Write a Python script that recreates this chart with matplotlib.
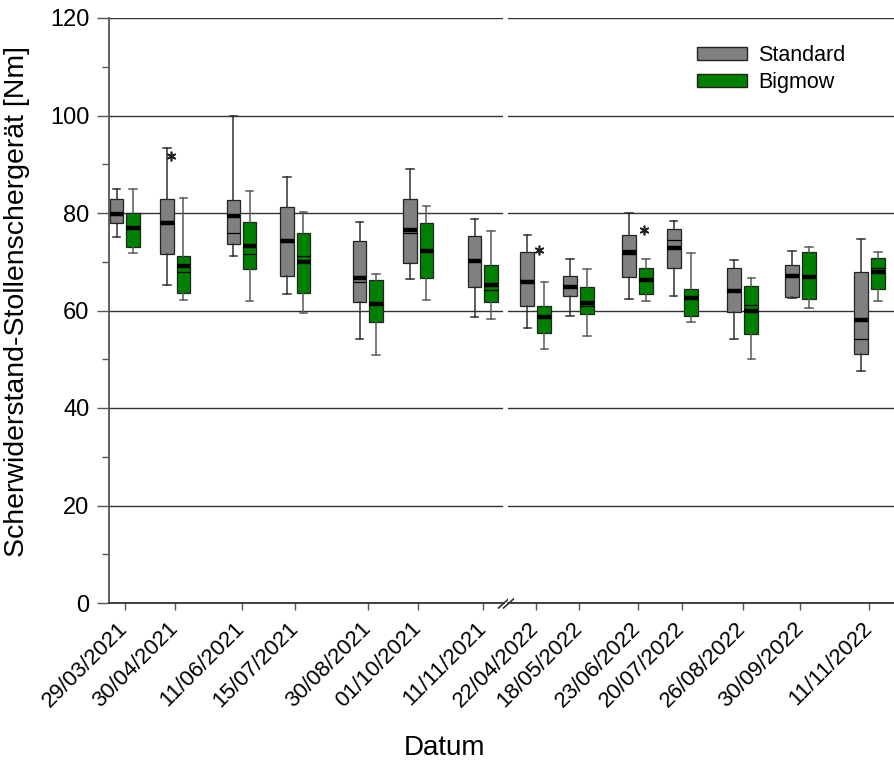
import datetime as dt
import matplotlib.pyplot as plt
import matplotlib.dates as mdates
from matplotlib.patches import Patch
from matplotlib.ticker import MultipleLocator

plt.rcParams['font.family'] = ['Liberation Sans', 'DejaVu Sans']

# sampling dates (first season / second season)
dates_2021 = ['29/03/2021', '30/04/2021', '11/06/2021', '15/07/2021',
              '30/08/2021', '01/10/2021', '11/11/2021']
dates_2022 = ['22/04/2022', '18/05/2022', '23/06/2022', '20/07/2022',
              '26/08/2022', '30/09/2022', '11/11/2022']
dates = dates_2021 + dates_2022

# Standard (grey) - box statistics [Nm]
std_whishi = [85.0, 93.4, 100.0, 87.4, 78.2, 89.0, 78.7, 75.5, 70.5, 79.9, 78.4, 70.4, 72.2, 74.7]
std_q3 = [82.8, 82.8, 82.7, 81.3, 74.3, 82.9, 75.2, 71.9, 67.1, 75.4, 76.7, 68.8, 69.3, 68.0]
std_mean = [79.8, 77.9, 79.4, 74.3, 66.7, 76.5, 70.2, 65.8, 64.9, 71.7, 72.8, 63.9, 67.1, 58.1]
std_median = [79.8, 77.9, 76.0, 74.3, 65.9, 75.8, 70.2, 65.8, 64.9, 72.4, 74.5, 63.9, 67.1, 54.1]
std_q1 = [77.9, 71.6, 73.6, 67.0, 61.7, 69.7, 64.9, 60.9, 63.0, 66.8, 68.7, 59.6, 62.8, 51.0]
std_whislo = [75.0, 65.2, 71.2, 63.3, 54.2, 66.5, 58.7, 56.4, 58.9, 62.3, 62.9, 54.2, 62.6, 47.5]

# Bigmow (green)
big_whishi = [84.9, 83.0, 84.6, 80.2, 67.4, 81.4, 76.4, 65.9, 68.5, 70.6, 71.7, 66.7, 73.1, 71.9]
big_q3 = [79.9, 71.1, 78.2, 76.0, 66.3, 78.0, 69.4, 61.0, 64.9, 68.8, 64.4, 65.0, 71.9, 70.7]
big_mean = [77.0, 69.1, 73.2, 69.9, 61.3, 72.3, 65.2, 58.6, 61.6, 66.3, 62.6, 60.0, 66.9, 68.0]
big_median = [77.0, 67.8, 71.5, 71.2, 61.3, 72.3, 64.2, 58.6, 61.0, 66.3, 62.6, 61.1, 66.9, 68.8]
big_q1 = [73.1, 63.5, 68.5, 63.5, 57.6, 66.6, 61.8, 55.3, 59.2, 63.4, 58.9, 55.2, 62.3, 64.4]
big_whislo = [71.7, 62.2, 62.0, 59.4, 50.9, 62.2, 58.2, 52.1, 54.8, 62.0, 57.6, 50.1, 60.6, 62.0]

# significance stars: date, value
star_dates = ['30/04/2021', '22/04/2022', '23/06/2022']
star_values = [91.7, 72.4, 76.6]
star_shift = [-2.5, 2.0, 4.0]  # days

def to_num(s):
    return mdates.date2num(dt.datetime.strptime(s, '%d/%m/%Y'))

def stats(i, hi, q3, mean, med, q1, lo):
    return dict(whishi=hi[i], q3=q3[i], mean=mean[i], med=med[i],
                q1=q1[i], whislo=lo[i], fliers=[])

fig = plt.figure(figsize=(8.94, 7.74), dpi=100)
W, H = 894, 774
bottom = 1 - 603 / H
height = 585 / H
ax1 = fig.add_axes([109 / W, bottom, (503.5 - 109) / W, height])
ax2 = fig.add_axes([508 / W, bottom, (894 - 508) / W, height], sharey=ax1)

offset = 5.2
box_w = 8.5
cap_w = 4.7

for ax, labels in [(ax1, dates_2021), (ax2, dates_2022)]:
    idx = [dates.index(d) for d in labels]
    pos = [to_num(d) for d in labels]
    std_stats = [stats(i, std_whishi, std_q3, std_mean, std_median, std_q1, std_whislo) for i in idx]
    big_stats = [stats(i, big_whishi, big_q3, big_mean, big_median, big_q1, big_whislo) for i in idx]
    for st, shift, fc, wc in [(std_stats, -offset, '#808080', '#303030'),
                              (big_stats, offset, '#008000', '#5a5a5a')]:
        ax.bxp(st, positions=[p + shift for p in pos], widths=box_w,
               capwidths=cap_w, showmeans=True, meanline=True, showfliers=False,
               patch_artist=True, manage_ticks=False,
               boxprops=dict(facecolor=fc, edgecolor='#222222', linewidth=0.9),
               whiskerprops=dict(color=wc, linewidth=1.1),
               capprops=dict(color=wc, linewidth=1.1),
               medianprops=dict(color='black', linewidth=0.9),
               meanprops=dict(color='black', linewidth=3.2, linestyle='-'))
    ax.set_xticks(pos)
    ax.set_xticklabels(labels, rotation=45, ha='right', va='center',
                       rotation_mode='anchor', fontsize=16)
    ax.tick_params(axis='x', direction='out', length=5, width=1, color='#555555', pad=11)
    ax.set_axisbelow(True)
    ax.yaxis.grid(True, color='#333333', linewidth=1.0)
    ax.spines['top'].set_visible(False)
    ax.spines['right'].set_visible(False)
    ax.spines['bottom'].set_color('#333333')
    ax.spines['bottom'].set_linewidth(1.3)

for d, v, s in zip(star_dates, star_values, star_shift):
    ax = ax1 if d in dates_2021 else ax2
    ax.plot(to_num(d) + s, v, marker=(6, 2, 0), markersize=7, color='#222222',
            markeredgewidth=1.2, linestyle='none')

ax1.set_xlim(mdates.date2num(dt.datetime(2021, 3, 19)), mdates.date2num(dt.datetime(2021, 11, 24)))
ax2.set_xlim(mdates.date2num(dt.datetime(2022, 4, 5)), mdates.date2num(dt.datetime(2022, 11, 26)))
ax1.set_ylim(0, 120)
ax1.yaxis.set_major_locator(MultipleLocator(20))
ax1.yaxis.set_minor_locator(MultipleLocator(10))
ax1.tick_params(axis='y', which='major', direction='out', length=9, width=1,
                color='#555555', labelsize=17, pad=5)
ax1.tick_params(axis='y', which='minor', direction='out', length=5, width=1, color='#555555')
ax1.spines['left'].set_color('#555555')
ax1.spines['left'].set_linewidth(1.3)
ax2.spines['left'].set_visible(False)
ax2.tick_params(axis='y', which='both', left=False, labelleft=False)

ax1.set_ylabel('Scherwiderstand-Stollenschergerät [Nm]', fontsize=20.5)
ax1.yaxis.set_label_coords(-0.2, 0.516)
fig.text(445 / W, 1 - 748 / H, 'Datum', ha='center', va='center', fontsize=20)

# break marks on the x axis
kw = dict(marker=[(-1, -0.9), (1, 0.9)], markersize=8, linestyle='none',
          color='#333333', mec='#333333', mew=1.2, clip_on=False)
ax1.plot([1], [0], transform=ax1.transAxes, **kw)
ax2.plot([0], [0], transform=ax2.transAxes, **kw)

handles = [Patch(facecolor='#808080', edgecolor='#222222', label='Standard'),
           Patch(facecolor='#008000', edgecolor='#222222', label='Bigmow')]
fig.legend(handles=handles, loc='upper left', bbox_to_anchor=(697 / W, 1 - 45 / H),
           frameon=False, fontsize=15.5, handlelength=2.3, handleheight=0.56,
           handletextpad=0.55, labelspacing=0.3, borderpad=0, borderaxespad=0)

fig.savefig('out.png', dpi=100)
